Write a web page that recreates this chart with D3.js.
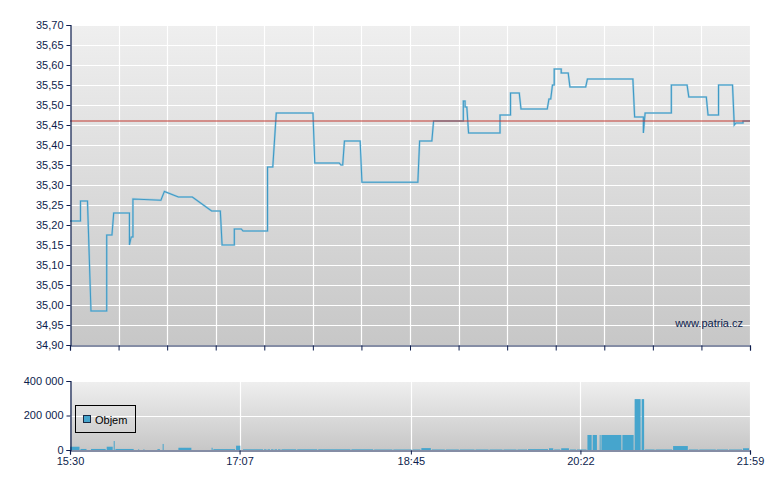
<!DOCTYPE html>
<html><head><meta charset="utf-8">
<script src="https://cdn.jsdelivr.net/npm/d3@7"></script>
<style>
html,body{margin:0;padding:0;background:#fff;}
svg{display:block;font-family:"Liberation Sans",Arial,sans-serif;}
</style></head>
<body><svg id="c" width="780" height="490"></svg>
<script>
// ---- data ----
const priceTimes = ["15:30","15:36","15:36","15:40","15:42","15:51","15:51","15:54","15:55","16:04","16:04","16:05","16:06","16:06","16:22","16:24","16:32","16:40","16:51","16:56","16:57","17:04","17:04","17:08","17:09","17:23","17:23","17:26","17:28","17:49","17:50","18:04","18:05","18:06","18:07","18:16","18:17","18:49","18:50","18:57","18:58","19:15","19:15","19:16","19:16","19:17","19:18","19:36","19:36","19:42","19:42","19:47","19:48","20:03","20:04","20:05","20:06","20:07","20:07","20:11","20:11","20:15","20:16","20:25","20:26","20:52","20:53","20:58","20:58","20:59","21:14","21:14","21:23","21:24","21:34","21:35","21:41","21:41","21:49","21:50","21:51","21:55","21:55","21:59"];
const priceValues = [35.21,35.21,35.26,35.26,34.985,34.985,35.175,35.175,35.23,35.23,35.15,35.17,35.17,35.265,35.262,35.284,35.27,35.27,35.235,35.235,35.15,35.15,35.19,35.19,35.185,35.185,35.345,35.345,35.48,35.48,35.355,35.355,35.35,35.35,35.41,35.41,35.307,35.307,35.41,35.41,35.46,35.46,35.51,35.51,35.495,35.495,35.43,35.43,35.475,35.475,35.53,35.53,35.49,35.49,35.515,35.515,35.55,35.55,35.59,35.59,35.58,35.58,35.545,35.545,35.565,35.565,35.47,35.47,35.43,35.48,35.48,35.55,35.55,35.52,35.52,35.475,35.475,35.55,35.55,35.45,35.455,35.455,35.46,35.46];
const referencePrice = 35.46;

const volTimes = ["15:30","15:36","15:40","15:42","15:51","15:55","15:56","16:07","16:09","16:10","16:12","16:13","16:20","16:22","16:23","16:24","16:32","16:40","16:51","16:52","17:05","17:08","17:09","17:21","17:23","17:25","17:27","17:29","17:31","17:40","17:52","18:11","18:24","18:35","18:46","18:51","18:57","19:05","19:13","19:22","19:30","19:38","19:46","19:52","20:04","20:07","20:11","20:16","20:20","20:26","20:29","20:32","20:33","20:34","20:46","20:53","20:57","20:59","21:05","21:15","21:24","21:30","21:40","21:47","21:55"];
const volValues = [19000,6000,0,6000,19000,52000,6000,0,4000,0,4000,0,5000,0,35000,0,13000,0,13000,5000,25000,0,4000,4000,4000,4000,4000,4000,4000,4000,4000,4000,3000,3000,3000,11000,3000,3000,3000,3000,3000,3000,3000,5000,10000,3000,10000,3000,3000,87000,87000,0,87000,87000,87000,295000,295000,3000,3000,23000,3000,3000,3000,3000,10000];
const volEnd = "21:59";

const priceTicks = [34.90,34.95,35.00,35.05,35.10,35.15,35.20,35.25,35.30,35.35,35.40,35.45,35.50,35.55,35.60,35.65,35.70];
const volTicks = [0,200000,400000];
const timeTickLabels = ["15:30","17:07","18:45","20:22","21:59"];
const legendLabel = "Objem";
const watermark = "www.patria.cz";

// ---- drawing ----
const parseT = d3.timeParse("%H:%M");
const loc = d3.formatLocale({decimal:",",thousands:" ",grouping:[3],currency:["",""]});
const fPrice = loc.format(".2f");
const fVol = loc.format(",d");

const svg = d3.select("#c");
const navy = "#0d1d4d";
const L = 70, R = 750;
const t0 = parseT("15:30"), t1 = parseT("21:59");
const x = d3.scaleTime().domain([t0, t1]).range([L, R]);

const defs = svg.append("defs");
function grad(id){
  const g = defs.append("linearGradient").attr("id",id).attr("x1",0).attr("y1",0).attr("x2",0).attr("y2",1);
  g.append("stop").attr("offset","0%").attr("stop-color","#efefef");
  g.append("stop").attr("offset","100%").attr("stop-color","#c7c7c7");
}
grad("gMain"); grad("gVol");

// main chart
const mTop = 25, mBot = 345;
const y = d3.scaleLinear().domain([34.90, 35.70]).range([mBot, mTop]);
svg.append("rect").attr("x",L).attr("y",mTop).attr("width",R-L).attr("height",mBot-mTop).attr("fill","url(#gMain)");
const gridTimes = d3.range(15).map(i => new Date(+t0 + i*(t1-t0)/14));
svg.append("g").selectAll("line").data(priceTicks).join("line")
  .attr("x1",L).attr("x2",R).attr("y1",d=>Math.round(y(d))+0.5).attr("y2",d=>Math.round(y(d))+0.5)
  .attr("stroke","#fff").attr("stroke-width",1.2);
svg.append("g").selectAll("line").data(gridTimes).join("line")
  .attr("x1",d=>Math.round(x(d))+0.5).attr("x2",d=>Math.round(x(d))+0.5).attr("y1",mTop).attr("y2",mBot)
  .attr("stroke","#fff").attr("stroke-width",1.2);

svg.append("text").attr("x",743).attr("y",327).attr("text-anchor","end")
  .attr("font-size",11).attr("fill",navy).text(watermark);

const pts = priceTimes.map((t,i)=>[parseT(t), priceValues[i]]);
const line = d3.line().x(d=>x(d[0])).y(d=>y(d[1]));
svg.append("path").datum(pts).attr("d",line).attr("fill","none")
  .attr("stroke","#8cc4de").attr("stroke-width",2.2).attr("stroke-opacity",0.6);
svg.append("path").datum(pts).attr("d",line).attr("fill","none")
  .attr("stroke","#3f9ac6").attr("stroke-width",1.1);

svg.append("line").attr("x1",L).attr("x2",R)
  .attr("y1",y(referencePrice)).attr("y2",y(referencePrice))
  .attr("stroke","#c23a32").attr("stroke-width",1.2);

svg.append("g").attr("transform",`translate(${L+0.5},0)`)
  .call(d3.axisLeft(y).tickValues(priceTicks).tickFormat(fPrice).tickSize(4).tickPadding(3));
svg.append("g").attr("transform",`translate(0,${mBot+0.5})`)
  .call(d3.axisBottom(x).tickValues(gridTimes).tickFormat("").tickSize(5));

// volume chart
const vTop = 381, vBot = 450;
const yv = d3.scaleLinear().domain([0, 400000]).range([vBot, vTop]);
svg.append("rect").attr("x",L).attr("y",vTop).attr("width",R-L).attr("height",vBot-vTop).attr("fill","url(#gVol)");
const volTickTimes = timeTickLabels.map(parseT);
svg.append("g").selectAll("line").data(volTicks.slice(1)).join("line")
  .attr("x1",L).attr("x2",R).attr("y1",d=>Math.round(yv(d))+0.5).attr("y2",d=>Math.round(yv(d))+0.5)
  .attr("stroke","#fff").attr("stroke-width",1.2);
svg.append("g").selectAll("line").data(volTickTimes.slice(1)).join("line")
  .attr("x1",d=>Math.round(x(d))+0.5).attr("x2",d=>Math.round(x(d))+0.5).attr("y1",vTop).attr("y2",vBot)
  .attr("stroke","#fff").attr("stroke-width",1.2);

const bars = volTimes.map((t,i)=>({s:parseT(t), e:parseT(i<volTimes.length-1?volTimes[i+1]:volEnd), v:volValues[i]}))
  .filter(d=>d.v>0);
svg.append("g").selectAll("rect").data(bars).join("rect")
  .attr("x",d=>x(d.s)).attr("width",d=>Math.max(1, x(d.e)-x(d.s)-1))
  .attr("y",d=>yv(d.v)).attr("height",d=>vBot-yv(d.v))
  .attr("fill","#46a5cd");

// legend
svg.append("rect").attr("x",75.5).attr("y",405.5).attr("width",60).attr("height",27)
  .attr("fill","none").attr("stroke","#000").attr("stroke-width",1);
svg.append("rect").attr("x",83.5).attr("y",415.5).attr("width",7).attr("height",7)
  .attr("fill","#46a5cd").attr("stroke","#1a2a44").attr("stroke-width",1);
svg.append("text").attr("x",95).attr("y",423.5).attr("font-size",11).attr("fill","#000").text(legendLabel);

svg.append("g").attr("transform",`translate(${L+0.5},0)`)
  .call(d3.axisLeft(yv).tickValues(volTicks).tickFormat(fVol).tickSize(4).tickPadding(3))
  .selectAll(".tick text").attr("dy","0.3em");
svg.append("g").attr("transform",`translate(0,${vBot+0.5})`)
  .call(d3.axisBottom(x).tickValues(volTickTimes).tickFormat((d,i)=>timeTickLabels[i]).tickSize(4).tickPadding(3));

svg.selectAll(".domain").attr("stroke",navy).attr("stroke-width",1.2);
svg.selectAll(".tick line").attr("stroke",navy);
svg.selectAll(".tick text").attr("fill",navy).attr("font-size",11).attr("font-family","Liberation Sans, Arial, sans-serif");
</script></body></html>
